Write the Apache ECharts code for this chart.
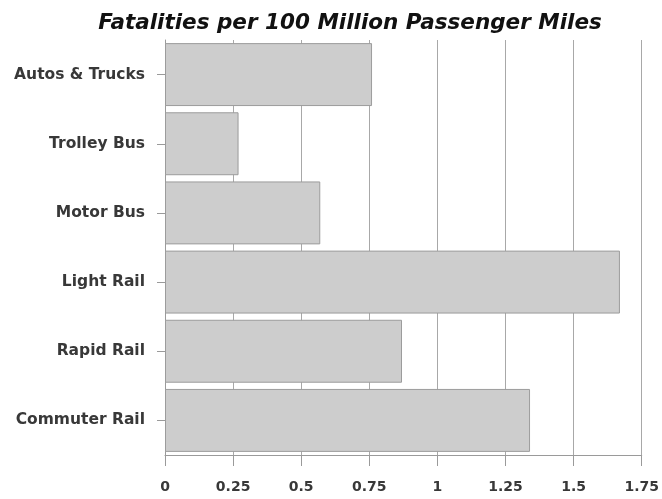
<!DOCTYPE html>
<html>
<head>
<meta charset="utf-8">
<script src="https://cdn.jsdelivr.net/npm/echarts@6/dist/echarts.min.js"></script>
<style>
  html, body { margin: 0; padding: 0; background: #ffffff; }
  #chart { width: 662px; height: 499px; }
</style>
</head>
<body>
<div id="chart"></div>
<script>
// Transit modes, listed top to bottom
const modes = ['Autos & Trucks', 'Trolley Bus', 'Motor Bus', 'Light Rail', 'Rapid Rail', 'Commuter Rail'];
// Fatalities per 100 million passenger miles
const fatalities = [0.76, 0.27, 0.57, 1.67, 0.87, 1.34];
// Value axis ticks
const xTicks = [0, 0.25, 0.5, 0.75, 1, 1.25, 1.5, 1.75];

const chart = echarts.init(document.getElementById('chart'), null, { renderer: 'canvas' });

const fontFamily = '"DejaVu Sans", "Liberation Sans", Arial, sans-serif';

chart.setOption({
  backgroundColor: '#ffffff',
  animation: false,
  title: {
    text: 'Fatalities per 100 Million Passenger Miles',
    left: 345,
    textAlign: 'center',
    top: 7,
    textStyle: {
      fontFamily: fontFamily,
      fontSize: 21.5,
      fontWeight: 'bold',
      fontStyle: 'italic',
      color: '#111111'
    }
  },
  grid: { left: 165, right: 19, top: 40, bottom: 44, containLabel: false },
  xAxis: {
    type: 'value',
    min: xTicks[0],
    max: xTicks[xTicks.length - 1],
    interval: 0.25,
    axisLine: { show: true, lineStyle: { color: '#9a9a9a', width: 1 } },
    axisTick: { show: true, length: 11, lineStyle: { color: '#9a9a9a' } },
    axisLabel: {
      margin: 25,
      fontFamily: fontFamily,
      fontSize: 14,
      fontWeight: 'bold',
      color: '#383838',
      formatter: v => String(v)
    },
    splitLine: { show: true, lineStyle: { color: '#a8a8a8', width: 1 } }
  },
  yAxis: {
    type: 'category',
    data: modes,
    inverse: true,
    axisLine: { show: true, lineStyle: { color: '#9a9a9a', width: 1 } },
    axisTick: { show: true, alignWithLabel: true, length: 8, lineStyle: { color: '#9a9a9a' } },
    axisLabel: {
      margin: 20,
      fontFamily: fontFamily,
      fontSize: 15.5,
      fontWeight: 'bold',
      color: '#383838'
    }
  },
  series: [{
    type: 'bar',
    data: fatalities,
    barCategoryGap: '9%',
    itemStyle: {
      color: '#cdcdcd',
      borderColor: '#9c9c9c',
      borderWidth: 1
    }
  }]
});
</script>
</body>
</html>
